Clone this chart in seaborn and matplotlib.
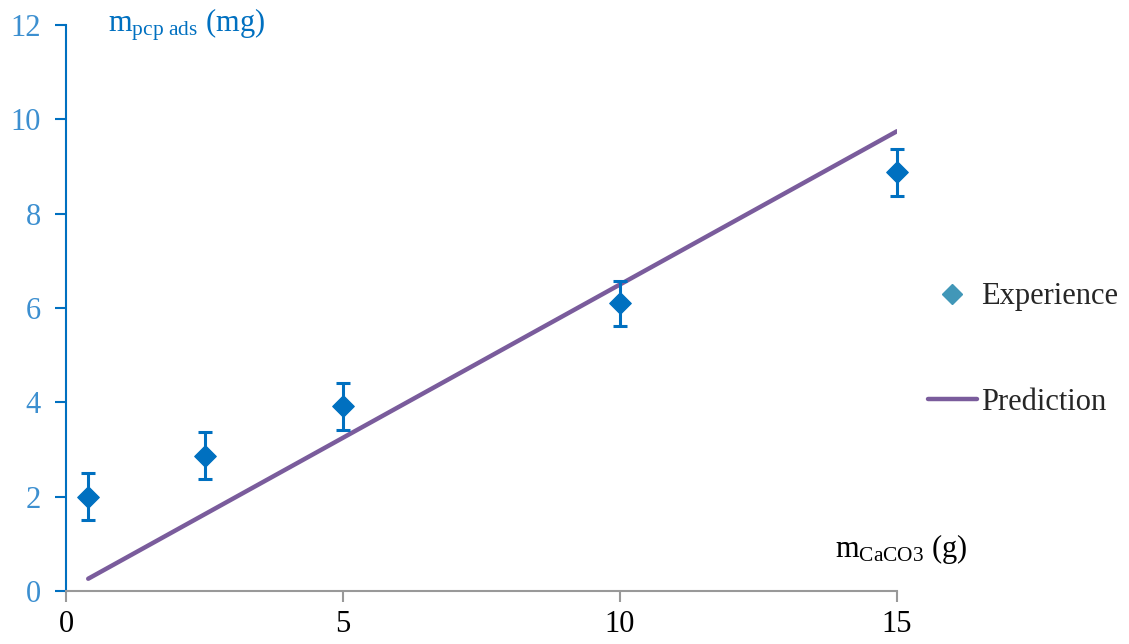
import matplotlib as mpl
import numpy as np
import pandas as pd
import matplotlib.pyplot as plt
import seaborn as sns
from matplotlib.lines import Line2D

# ----- data -----
mass_caco3 = [0.4, 2.5, 5, 10, 15]
mass_pcp_exp = [2.0, 2.87, 3.92, 6.1, 8.88]
mass_pcp_err = [0.5, 0.5, 0.5, 0.48, 0.5]
pred_x = [0.4, 15]
pred_y = [0.26, 9.75]

exp_df = pd.DataFrame({'m_caco3': mass_caco3, 'm_pcp': mass_pcp_exp, 'err': mass_pcp_err})
pred_df = pd.DataFrame({'m_caco3': pred_x, 'm_pcp': pred_y})

BLUE = '#0070C0'
TICK_BLUE = '#3C8FD0'
PURPLE = '#7A5C9C'
LEGEND_TEAL = '#4197B8'
FS = 22

sns.set_theme(style='white')
mpl.rcParams['font.family'] = ['Liberation Serif', 'DejaVu Serif']
mpl.rcParams['mathtext.fontset'] = 'custom'
mpl.rcParams['mathtext.rm'] = 'Liberation Serif'
mpl.rcParams['mathtext.it'] = 'Liberation Serif'

fig = plt.figure(figsize=(11.29, 6.44), dpi=100)
ax = fig.add_axes([0.0585, 0.0823, 0.736, 0.8787])

sns.lineplot(data=pred_df, x='m_caco3', y='m_pcp', ax=ax, color=PURPLE, linewidth=3.2)
eb = ax.errorbar(exp_df['m_caco3'], exp_df['m_pcp'], yerr=exp_df['err'], fmt='none',
                 ecolor=BLUE, elinewidth=2.2, capsize=5, capthick=2.2, zorder=3)
for art in eb.lines[1] + eb.lines[2]:
    art.set_clip_on(False)
sns.scatterplot(data=exp_df, x='m_caco3', y='m_pcp', ax=ax, marker='D', s=120,
                color=BLUE, edgecolor=BLUE, zorder=4, clip_on=False)

ax.set_xlim(0, 15)
ax.set_ylim(0, 12)
ax.set_xticks([0, 5, 10, 15])
ax.set_yticks(range(0, 13, 2))
ax.set_xlabel('')
ax.set_ylabel('')

for side in ['top', 'right']:
    ax.spines[side].set_visible(False)
ax.spines['left'].set_color(BLUE)
ax.spines['left'].set_linewidth(1.5)
ax.spines['bottom'].set_color('#999999')
ax.spines['bottom'].set_linewidth(1.5)

ax.tick_params(axis='y', direction='out', length=8, width=1.5, color=BLUE,
               labelcolor=TICK_BLUE, labelsize=FS, pad=10, left=True)
ax.tick_params(axis='x', direction='out', length=8, width=1.5, color='#999999',
               labelcolor='black', labelsize=FS, pad=6, bottom=True)

ax.text(0.051, 1.0, r'm$_{\mathrm{pcp\ ads}}$ (mg)', transform=ax.transAxes,
        color=BLUE, fontsize=FS, ha='left', va='center')
ax.text(0.925, 0.075, r'm$_{\mathrm{CaCO3}}$ (g)', transform=ax.transAxes,
        color='black', fontsize=FS, ha='left', va='center', clip_on=False)

handles = [
    Line2D([], [], marker='D', linestyle='none', color=LEGEND_TEAL, markersize=10),
    Line2D([], [], color=PURPLE, linewidth=3.2),
]
fig.legend(handles, ['Experience', 'Prediction'], loc='center left',
           bbox_to_anchor=(0.822, 0.457), frameon=False, fontsize=FS,
           borderpad=0, borderaxespad=0, labelspacing=2.5,
           handlelength=1.6, handletextpad=0.15)

fig.savefig('out.png', dpi=100)
plt.close(fig)
